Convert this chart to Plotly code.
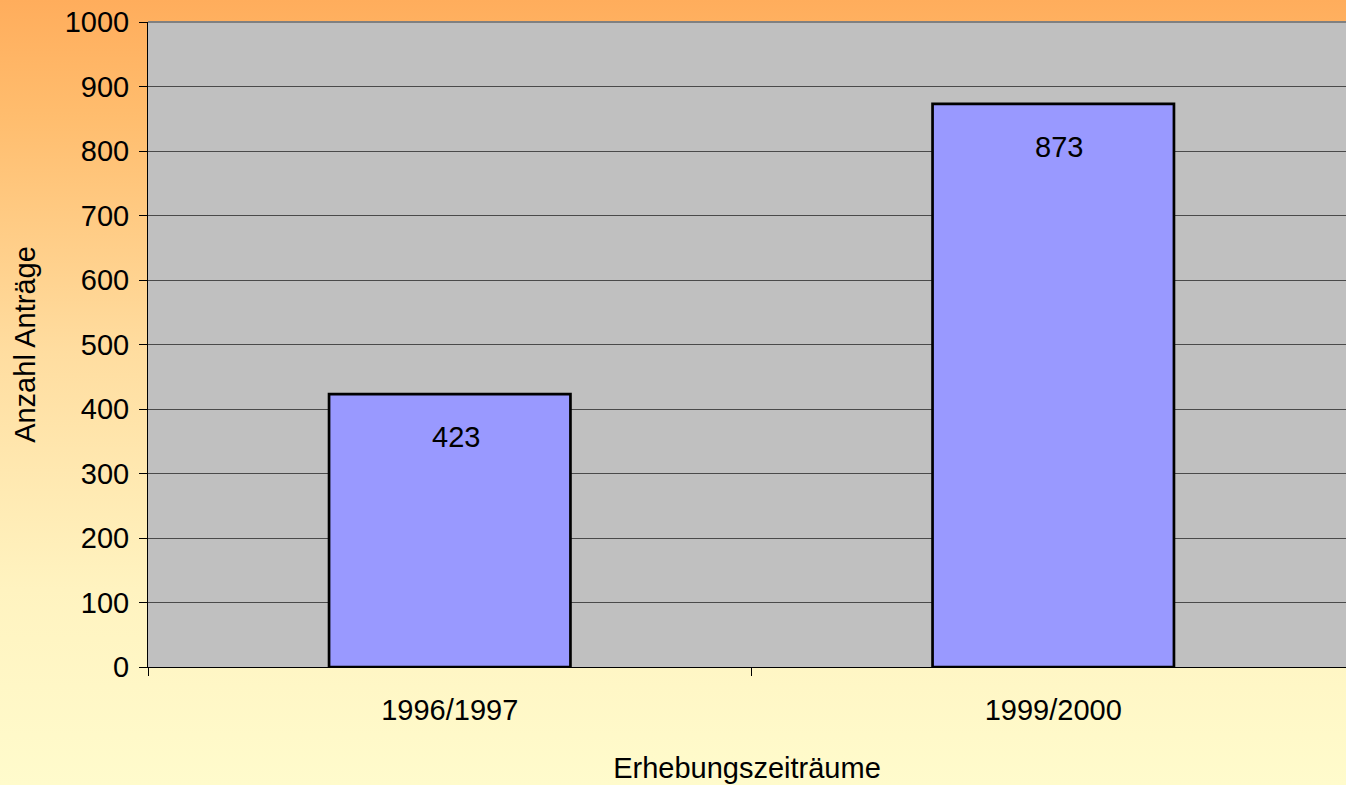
import base64
import plotly.graph_objects as go

categories = ["1996/1997", "1999/2000"]
antraege = [423, 873]
y_ticks = [0, 100, 200, 300, 400, 500, 600, 700, 800, 900, 1000]

W, H = 1346, 785
ML, MR, MT, MB = 148, 0, 22, 118
pw, ph = W - ML - MR, H - MT - MB

FONT = "Liberation Sans, Arial, sans-serif"
FS = 29

svg = (
    '<svg xmlns="http://www.w3.org/2000/svg" width="100" height="100" preserveAspectRatio="none">'
    '<defs><linearGradient id="g" x1="0" y1="0" x2="0" y2="1">'
    '<stop offset="0" stop-color="#FFAD5C"/>'
    '<stop offset="0.15" stop-color="#FFBD6E"/>'
    '<stop offset="0.45" stop-color="#FFDDA0"/>'
    '<stop offset="0.75" stop-color="#FFF3C0"/>'
    '<stop offset="1" stop-color="#FFFBCC"/>'
    '</linearGradient></defs>'
    '<rect width="100" height="100" fill="url(#g)"/></svg>'
)
src = "data:image/svg+xml;base64," + base64.b64encode(svg.encode()).decode()

fig = go.Figure()
fig.add_trace(go.Bar(
    x=categories, y=antraege, width=0.4,
    marker=dict(color="#9999FF", line=dict(color="#000000", width=2.7)),
    hoverinfo="x+y",
))

for c, v in zip(categories, antraege):
    fig.add_annotation(x=c, y=v, text=str(v), showarrow=False, yanchor="top",
                       yshift=-25, xshift=6, font=dict(family=FONT, size=FS, color="#000"))

fig.add_layout_image(dict(
    source=src, xref="paper", yref="paper",
    x=-ML / pw, y=1 + MT / ph, sizex=W / pw, sizey=H / ph,
    xanchor="left", yanchor="top", sizing="stretch", layer="below",
))
fig.add_shape(type="rect", xref="x domain", yref="y domain", x0=0, x1=1, y0=0, y1=1,
              fillcolor="#C0C0C0", line=dict(width=0), layer="below")
fig.add_shape(type="line", xref="x domain", yref="y domain", x0=0, x1=1, y0=1, y1=1,
              line=dict(color="#808080", width=2), layer="above")

fig.update_layout(
    width=W, height=H,
    margin=dict(l=ML, r=MR, t=MT, b=MB, pad=0),
    paper_bgcolor="rgba(0,0,0,0)", plot_bgcolor="rgba(0,0,0,0)",
    font=dict(family=FONT, size=FS, color="#000"),
    showlegend=False,
    bargap=0.6,
)
fig.update_xaxes(
    type="category", range=[-0.5, -0.5 + pw / 603.5],
    showline=True, linecolor="#000", linewidth=1,
    ticks="outside", tickson="boundaries", ticklen=8, tickcolor="#000",
    ticklabelstandoff=17,
    showgrid=False,
    title=dict(text="Erhebungszeiträume", font=dict(size=FS), standoff=32),
)
fig.update_yaxes(
    range=[0, 1000], tickvals=y_ticks,
    showline=True, linecolor="#000", linewidth=1,
    ticks="outside", ticklen=8, tickcolor="#000",
    ticklabelstandoff=4,
    showgrid=True, gridcolor="#4a4a4a", gridwidth=1,
    zeroline=False,
    title=dict(text="Anzahl Anträge", font=dict(size=FS), standoff=20),
)

fig.write_html("out.html", config={"displayModeBar": False},
               post_script="document.body.style.margin='0';document.body.style.overflow='hidden';")
